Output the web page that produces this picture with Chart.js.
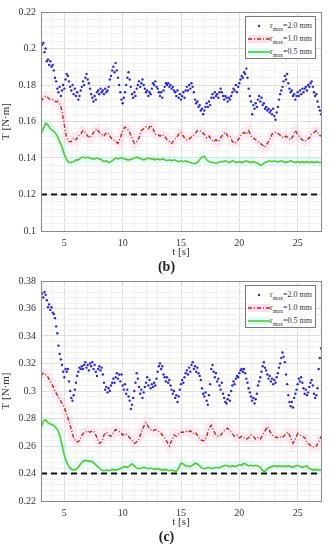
<!DOCTYPE html>
<html>
<head>
<meta charset="utf-8">
<script src="https://cdn.jsdelivr.net/npm/chart.js@4"></script>
<style>
  body { margin: 0; background: #fff; width: 333px; height: 550px; position: relative; overflow: hidden; }
  .wrap { position: absolute; left: 0; width: 333px; height: 262px; }
  .cap { position: absolute; left: 0; width: 333px; text-align: center; font: bold 14px "Liberation Serif", serif; color: #222; line-height: 16px; }
  .leg { position: absolute; border: 1px solid #777; background: #fff; font: 8px "Liberation Serif", serif; color: #333; box-sizing: border-box; }
  .row { position: absolute; left: 0; height: 12px; width: 100%; }
  .row svg { position: absolute; left: 2px; top: 0; }
  .lab { position: absolute; left: 24px; top: 1px; white-space: nowrap; line-height: 10px; }
  .lab sub { font-size: 6px; vertical-align: -3px; line-height: 0; }
</style>
</head>
<body>
<div class="wrap" style="top:0px"><canvas id="chartB"></canvas></div>
<div class="cap" style="top:259px">(b)</div>
<div class="wrap" style="top:270px"><canvas id="chartC"></canvas></div>
<div class="cap" style="top:529px">(c)</div>

<div class="leg" style="left:245px;top:16px;width:71px;height:43px" id="legB"></div>
<div class="leg" style="left:245px;top:285px;width:71px;height:43px" id="legC"></div>

<script>
const tStart = 3;
const dotStep = 0.1;   // spacing of the r=2.0 dots
const lineStep = 0.2;  // spacing of the two lines

const seriesNames = ['=2.0 mm', '=1.0 mm', '=0.5 mm'];
const xTicks = [5, 10, 15, 20, 25];
const yTicksB = [0.1, 0.12, 0.14, 0.16, 0.18, 0.2, 0.22];
const yTicksC = [0.22, 0.24, 0.26, 0.28, 0.3, 0.32, 0.34, 0.36, 0.38];
const refB = 0.12;
const refC = 0.24;

// (b)
const dotsB = [
  0.208,0.202,0.203,0.198,0.200,0.193,0.194,0.191,0.193,0.190,
  0.191,0.188,0.184,0.182,0.178,0.176,0.179,0.174,0.177,0.180,
  0.178,0.183,0.186,0.185,0.182,0.179,0.177,0.180,0.175,0.178,
  0.174,0.176,0.172,0.174,0.177,0.179,0.182,0.180,0.184,0.186,
  0.183,0.181,0.178,0.175,0.173,0.171,0.174,0.172,0.176,0.177,
  0.175,0.178,0.176,0.177,0.175,0.178,0.176,0.177,0.179,0.183,
  0.185,0.188,0.190,0.187,0.192,0.188,0.184,0.180,0.176,0.172,
  0.170,0.173,0.176,0.180,0.184,0.187,0.183,0.179,0.175,0.173,
  0.176,0.174,0.178,0.180,0.182,0.179,0.181,0.183,0.180,0.178,
  0.176,0.177,0.174,0.176,0.175,0.178,0.181,0.180,0.182,0.179,
  0.178,0.176,0.174,0.176,0.173,0.177,0.179,0.181,0.180,0.181,
  0.179,0.180,0.178,0.179,0.177,0.176,0.174,0.177,0.173,0.175,
  0.172,0.174,0.176,0.173,0.177,0.179,0.177,0.180,0.178,0.181,
  0.179,0.176,0.172,0.170,0.171,0.168,0.169,0.166,0.167,0.164,
  0.166,0.168,0.170,0.168,0.171,0.169,0.173,0.175,0.173,0.176,
  0.174,0.175,0.173,0.176,0.178,0.176,0.174,0.172,0.174,0.173,
  0.171,0.173,0.172,0.174,0.176,0.178,0.177,0.180,0.176,0.179,
  0.181,0.183,0.185,0.184,0.187,0.186,0.189,0.184,0.178,0.174,
  0.171,0.164,0.169,0.167,0.170,0.168,0.172,0.174,0.171,0.173,
  0.169,0.170,0.167,0.168,0.166,0.167,0.165,0.166,0.164,0.167,
  0.163,0.161,0.165,0.168,0.172,0.175,0.177,0.179,0.182,0.185,
  0.183,0.186,0.181,0.178,0.176,0.177,0.174,0.175,0.172,0.174,
  0.176,0.174,0.177,0.175,0.178,0.176,0.178,0.179,0.177,0.180,
  0.179,0.181,0.182,0.179,0.176,0.174,0.175,0.171,0.168,0.166,
  0.164
];
const redB = [
  0.171,0.173,0.174,0.173,0.172,
  0.172,0.171,0.171,0.170,0.166,
  0.158,0.151,0.149,0.149,0.151,
  0.150,0.152,0.153,0.155,0.154,
  0.152,0.151,0.153,0.155,0.156,
  0.154,0.153,0.152,0.154,0.153,
  0.151,0.150,0.149,0.148,0.151,
  0.155,0.157,0.156,0.154,0.151,
  0.148,0.149,0.151,0.155,0.156,
  0.157,0.156,0.158,0.156,0.153,
  0.153,0.152,0.153,0.152,0.150,
  0.149,0.148,0.150,0.151,0.153,
  0.154,0.152,0.150,0.150,0.151,
  0.152,0.153,0.155,0.155,0.154,
  0.153,0.151,0.152,0.150,0.149,
  0.150,0.149,0.151,0.153,0.154,
  0.152,0.152,0.149,0.148,0.149,
  0.151,0.153,0.154,0.153,0.155,
  0.152,0.151,0.150,0.149,0.148,
  0.147,0.146,0.148,0.150,0.153,
  0.154,0.154,0.153,0.152,0.151,
  0.152,0.151,0.150,0.152,0.155,
  0.153,0.151,0.150,0.149,0.150,
  0.151,0.153,0.154,0.155,0.153,
  0.152
];
const greenB = [
  0.153,0.156,0.159,0.158,0.156,
  0.155,0.154,0.152,0.149,0.146,
  0.142,0.139,0.1375,0.1375,0.138,
  0.139,0.139,0.140,0.1405,0.140,
  0.1405,0.140,0.1395,0.1395,0.140,
  0.1395,0.139,0.138,0.1385,0.1375,
  0.138,0.139,0.140,0.1395,0.140,
  0.140,0.1395,0.139,0.139,0.1395,
  0.140,0.1405,0.140,0.1395,0.139,
  0.1395,0.140,0.1395,0.1395,0.139,
  0.1395,0.139,0.1395,0.139,0.1385,
  0.139,0.1385,0.139,0.1385,0.138,
  0.1385,0.138,0.1385,0.138,0.1375,
  0.137,0.137,0.1375,0.139,0.1405,
  0.141,0.139,0.138,0.1375,0.1375,
  0.137,0.1375,0.138,0.138,0.1385,
  0.138,0.1375,0.1385,0.138,0.1375,
  0.138,0.1375,0.138,0.1385,0.138,
  0.1375,0.138,0.1375,0.137,0.136,
  0.1365,0.1375,0.138,0.1385,0.138,
  0.1385,0.138,0.138,0.1385,0.138,
  0.1375,0.138,0.1385,0.138,0.1375,
  0.138,0.1375,0.138,0.1375,0.138,
  0.1375,0.138,0.1375,0.138,0.1375,
  0.1375
];

// (c)
const dotsC = [
  0.369,0.371,0.368,0.372,0.370,0.366,0.361,0.363,0.359,0.361,
  0.357,0.356,0.353,0.347,0.342,0.333,0.327,0.323,0.319,0.314,
  0.310,0.316,0.314,0.316,0.307,0.300,0.295,0.293,0.297,0.301,
  0.306,0.311,0.314,0.317,0.316,0.318,0.316,0.319,0.321,0.317,
  0.319,0.315,0.320,0.318,0.321,0.316,0.319,0.314,0.311,0.316,
  0.318,0.315,0.317,0.312,0.306,0.301,0.303,0.299,0.302,0.300,
  0.304,0.306,0.309,0.306,0.310,0.313,0.309,0.312,0.307,0.312,
  0.304,0.301,0.305,0.298,0.301,0.296,0.293,0.287,0.290,0.295,
  0.300,0.306,0.313,0.309,0.303,0.298,0.301,0.295,0.299,0.303,
  0.306,0.310,0.304,0.308,0.302,0.305,0.303,0.306,0.304,0.309,
  0.314,0.318,0.320,0.316,0.318,0.312,0.310,0.307,0.310,0.306,
  0.308,0.304,0.301,0.298,0.300,0.295,0.297,0.292,0.296,0.301,
  0.305,0.308,0.306,0.310,0.313,0.315,0.312,0.317,0.314,0.319,
  0.321,0.316,0.318,0.314,0.317,0.313,0.311,0.308,0.302,0.298,
  0.296,0.299,0.293,0.290,0.297,0.305,0.316,0.319,0.314,0.310,
  0.313,0.307,0.309,0.304,0.301,0.306,0.298,0.295,0.292,0.291,
  0.294,0.297,0.293,0.300,0.304,0.307,0.305,0.309,0.311,0.310,
  0.313,0.315,0.316,0.314,0.316,0.313,0.309,0.306,0.302,0.299,
  0.296,0.293,0.295,0.291,0.294,0.298,0.304,0.307,0.310,0.314,
  0.318,0.321,0.317,0.315,0.312,0.309,0.311,0.307,0.309,0.305,
  0.308,0.306,0.310,0.313,0.317,0.320,0.324,0.328,0.325,0.321,
  0.312,0.305,0.297,0.292,0.289,0.292,0.288,0.295,0.298,0.301,
  0.305,0.309,0.307,0.310,0.306,0.302,0.298,0.301,0.297,0.299,
  0.303,0.306,0.308,0.304,0.298,0.295,0.297,0.302,0.316,0.324,
  0.331
];
const redC = [
  0.311,0.313,0.312,0.310,0.307,
  0.304,0.300,0.297,0.294,0.291,
  0.288,0.283,0.278,0.272,0.266,
  0.263,0.263,0.266,0.269,0.270,
  0.271,0.270,0.271,0.270,0.266,
  0.262,0.263,0.268,0.270,0.268,
  0.267,0.270,0.272,0.271,0.270,
  0.268,0.269,0.268,0.266,0.264,
  0.262,0.263,0.265,0.270,0.274,
  0.277,0.274,0.272,0.271,0.272,
  0.271,0.270,0.268,0.266,0.263,
  0.260,0.264,0.268,0.267,0.269,
  0.270,0.270,0.271,0.270,0.271,
  0.269,0.270,0.268,0.265,0.264,
  0.264,0.267,0.273,0.275,0.271,
  0.268,0.267,0.268,0.270,0.272,
  0.273,0.271,0.269,0.267,0.268,
  0.266,0.267,0.266,0.265,0.266,
  0.268,0.267,0.265,0.266,0.265,
  0.268,0.271,0.274,0.271,0.268,
  0.267,0.266,0.267,0.266,0.267,
  0.269,0.270,0.266,0.262,0.265,
  0.269,0.268,0.267,0.266,0.263,
  0.261,0.260,0.259,0.260,0.263,
  0.267
];
const greenC = [
  0.273,0.278,0.279,0.277,0.276,
  0.2755,0.274,0.272,0.268,0.261,
  0.253,0.248,0.245,0.243,0.2425,
  0.243,0.2445,0.247,0.249,0.2495,
  0.249,0.249,0.2485,0.247,0.2455,
  0.244,0.2425,0.242,0.2425,0.242,
  0.2425,0.243,0.2425,0.243,0.2435,
  0.2445,0.245,0.2445,0.2455,0.247,
  0.2455,0.244,0.2435,0.244,0.2445,
  0.244,0.2435,0.244,0.2435,0.243,
  0.2435,0.243,0.2425,0.243,0.2425,
  0.242,0.2425,0.242,0.2415,0.244,
  0.2475,0.247,0.2455,0.2455,0.245,
  0.246,0.2475,0.247,0.2455,0.244,
  0.2435,0.244,0.2445,0.2435,0.244,
  0.2445,0.244,0.2445,0.2455,0.246,
  0.2455,0.245,0.2455,0.245,0.2455,
  0.2465,0.246,0.2475,0.2465,0.2455,
  0.246,0.2455,0.246,0.2455,0.2445,
  0.242,0.2415,0.2435,0.2445,0.245,
  0.2455,0.245,0.2455,0.245,0.2455,
  0.245,0.2455,0.245,0.2445,0.2455,
  0.246,0.245,0.2445,0.245,0.2455,
  0.2435,0.243,0.2425,0.243,0.2425,
  0.2425
];

const serif = '"Liberation Serif", "Times New Roman", serif';

function toXY(values, step) {
  return values.map((v, i) => ({ x: +(tStart + i * step).toFixed(2), y: v }));
}

function isMajor(v, list) {
  return list.some(m => Math.abs(m - v) < 1e-7);
}

// box round the plot, like matlab's "box on"
const boxPlugin = {
  id: 'box',
  afterDraw(chart) {
    const a = chart.chartArea, c = chart.ctx;
    c.save();
    c.strokeStyle = '#8a8a8a';
    c.lineWidth = 1;
    c.strokeRect(Math.round(a.left) + 0.5, Math.round(a.top) + 0.5, Math.round(a.right - a.left), Math.round(a.bottom - a.top));
    c.restore();
  }
};

function makeChart(id, dots, red, green, ref, yTicks, padTop) {
  const ctx = document.getElementById(id);
  new Chart(ctx, {
    type: 'scatter',
    data: {
      datasets: [
        { label: seriesNames[0], data: toXY(dots, dotStep), showLine: false,
          pointRadius: 1.2, pointBorderWidth: 0, backgroundColor: '#2626d6', order: 0 },
        { label: seriesNames[1], data: toXY(red, lineStep), showLine: true, pointRadius: 0,
          borderColor: '#a8321e', borderWidth: 1.4, borderDash: [4, 2, 1, 2], order: 1 },
        { label: seriesNames[2], data: toXY(green, lineStep), showLine: true, pointRadius: 0,
          borderColor: '#62c22e', borderWidth: 1.6, order: 2 },
        { label: 'ref', data: [{ x: tStart, y: ref }, { x: 27, y: ref }], showLine: true, pointRadius: 0,
          borderColor: '#111', borderWidth: 1.8, borderDash: [6, 4], order: 3 },
        { label: 'halo1', data: toXY(red, lineStep), showLine: true, pointRadius: 0,
          borderColor: 'rgba(255,185,215,0.28)', borderWidth: 9, order: 4 },
        { label: 'halo2', data: toXY(green, lineStep), showLine: true, pointRadius: 0,
          borderColor: 'rgba(175,250,245,0.35)', borderWidth: 8, order: 5 }
      ]
    },
    options: {
      responsive: true,
      maintainAspectRatio: false,
      animation: false,
      layout: { padding: { top: padTop, right: 12, left: 0, bottom: 0 } },
      plugins: { legend: { display: false }, tooltip: { enabled: false } },
      scales: {
        x: {
          type: 'linear', min: 3, max: 27,
          border: { color: '#8a8a8a' },
          grid: {
            drawTicks: false,
            color: c => isMajor(c.tick.value, xTicks) ? '#dedede' : '#f1f1f1'
          },
          ticks: {
            stepSize: 1, autoSkip: false, maxRotation: 0, padding: 6,
            font: { family: serif, size: 10 }, color: '#333',
            callback: v => isMajor(v, xTicks) ? String(v) : ''
          },
          title: { display: true, text: 't [s]', font: { family: serif, size: 11 }, color: '#333',
                   padding: { top: 0, bottom: 3 } },
          afterFit: s => { s.height = 31; }
        },
        y: {
          min: yTicks[0], max: yTicks[yTicks.length - 1],
          border: { color: '#8a8a8a' },
          grid: {
            drawTicks: false,
            color: c => isMajor(c.tick.value, yTicks) ? '#dedede' : '#f1f1f1'
          },
          ticks: {
            stepSize: 0.004, autoSkip: false, maxTicksLimit: 100, padding: 5,
            font: { family: serif, size: 10 }, color: '#333',
            callback: v => isMajor(v, yTicks) ? String(+v.toFixed(3)) : ''
          },
          title: { display: true, text: 'T [N·m]', font: { family: serif, size: 11 }, color: '#333',
                   padding: { top: 0, bottom: 8 } },
          afterFit: s => { s.width = 41; }
        }
      }
    },
    plugins: [boxPlugin]
  });
}

function buildLegend(id) {
  const el = document.getElementById(id);
  const samples = [
    '<svg width="22" height="12"><circle cx="11" cy="6" r="1.2" fill="#2626d6"/></svg>',
    '<svg width="22" height="12"><rect x="0" y="2" width="22" height="8" fill="rgba(255,185,215,0.45)"/><line x1="0" y1="6" x2="22" y2="6" stroke="#a8321e" stroke-width="1.4" stroke-dasharray="4 2 1 2"/></svg>',
    '<svg width="22" height="12"><rect x="0" y="2" width="22" height="8" fill="rgba(175,250,245,0.45)"/><line x1="0" y1="6" x2="22" y2="6" stroke="#62c22e" stroke-width="1.6"/></svg>'
  ];
  el.innerHTML = seriesNames.map((name, i) =>
    '<div class="row" style="top:' + (3 + i * 13) + 'px">' + samples[i] +
    '<span class="lab">r<sub>max</sub>' + name + '</span></div>').join('');
}

makeChart('chartB', dotsB, redB, greenB, refB, yTicksB, 12);
makeChart('chartC', dotsC, redC, greenC, refC, yTicksC, 11);
buildLegend('legB');
buildLegend('legC');
</script>
</body>
</html>
